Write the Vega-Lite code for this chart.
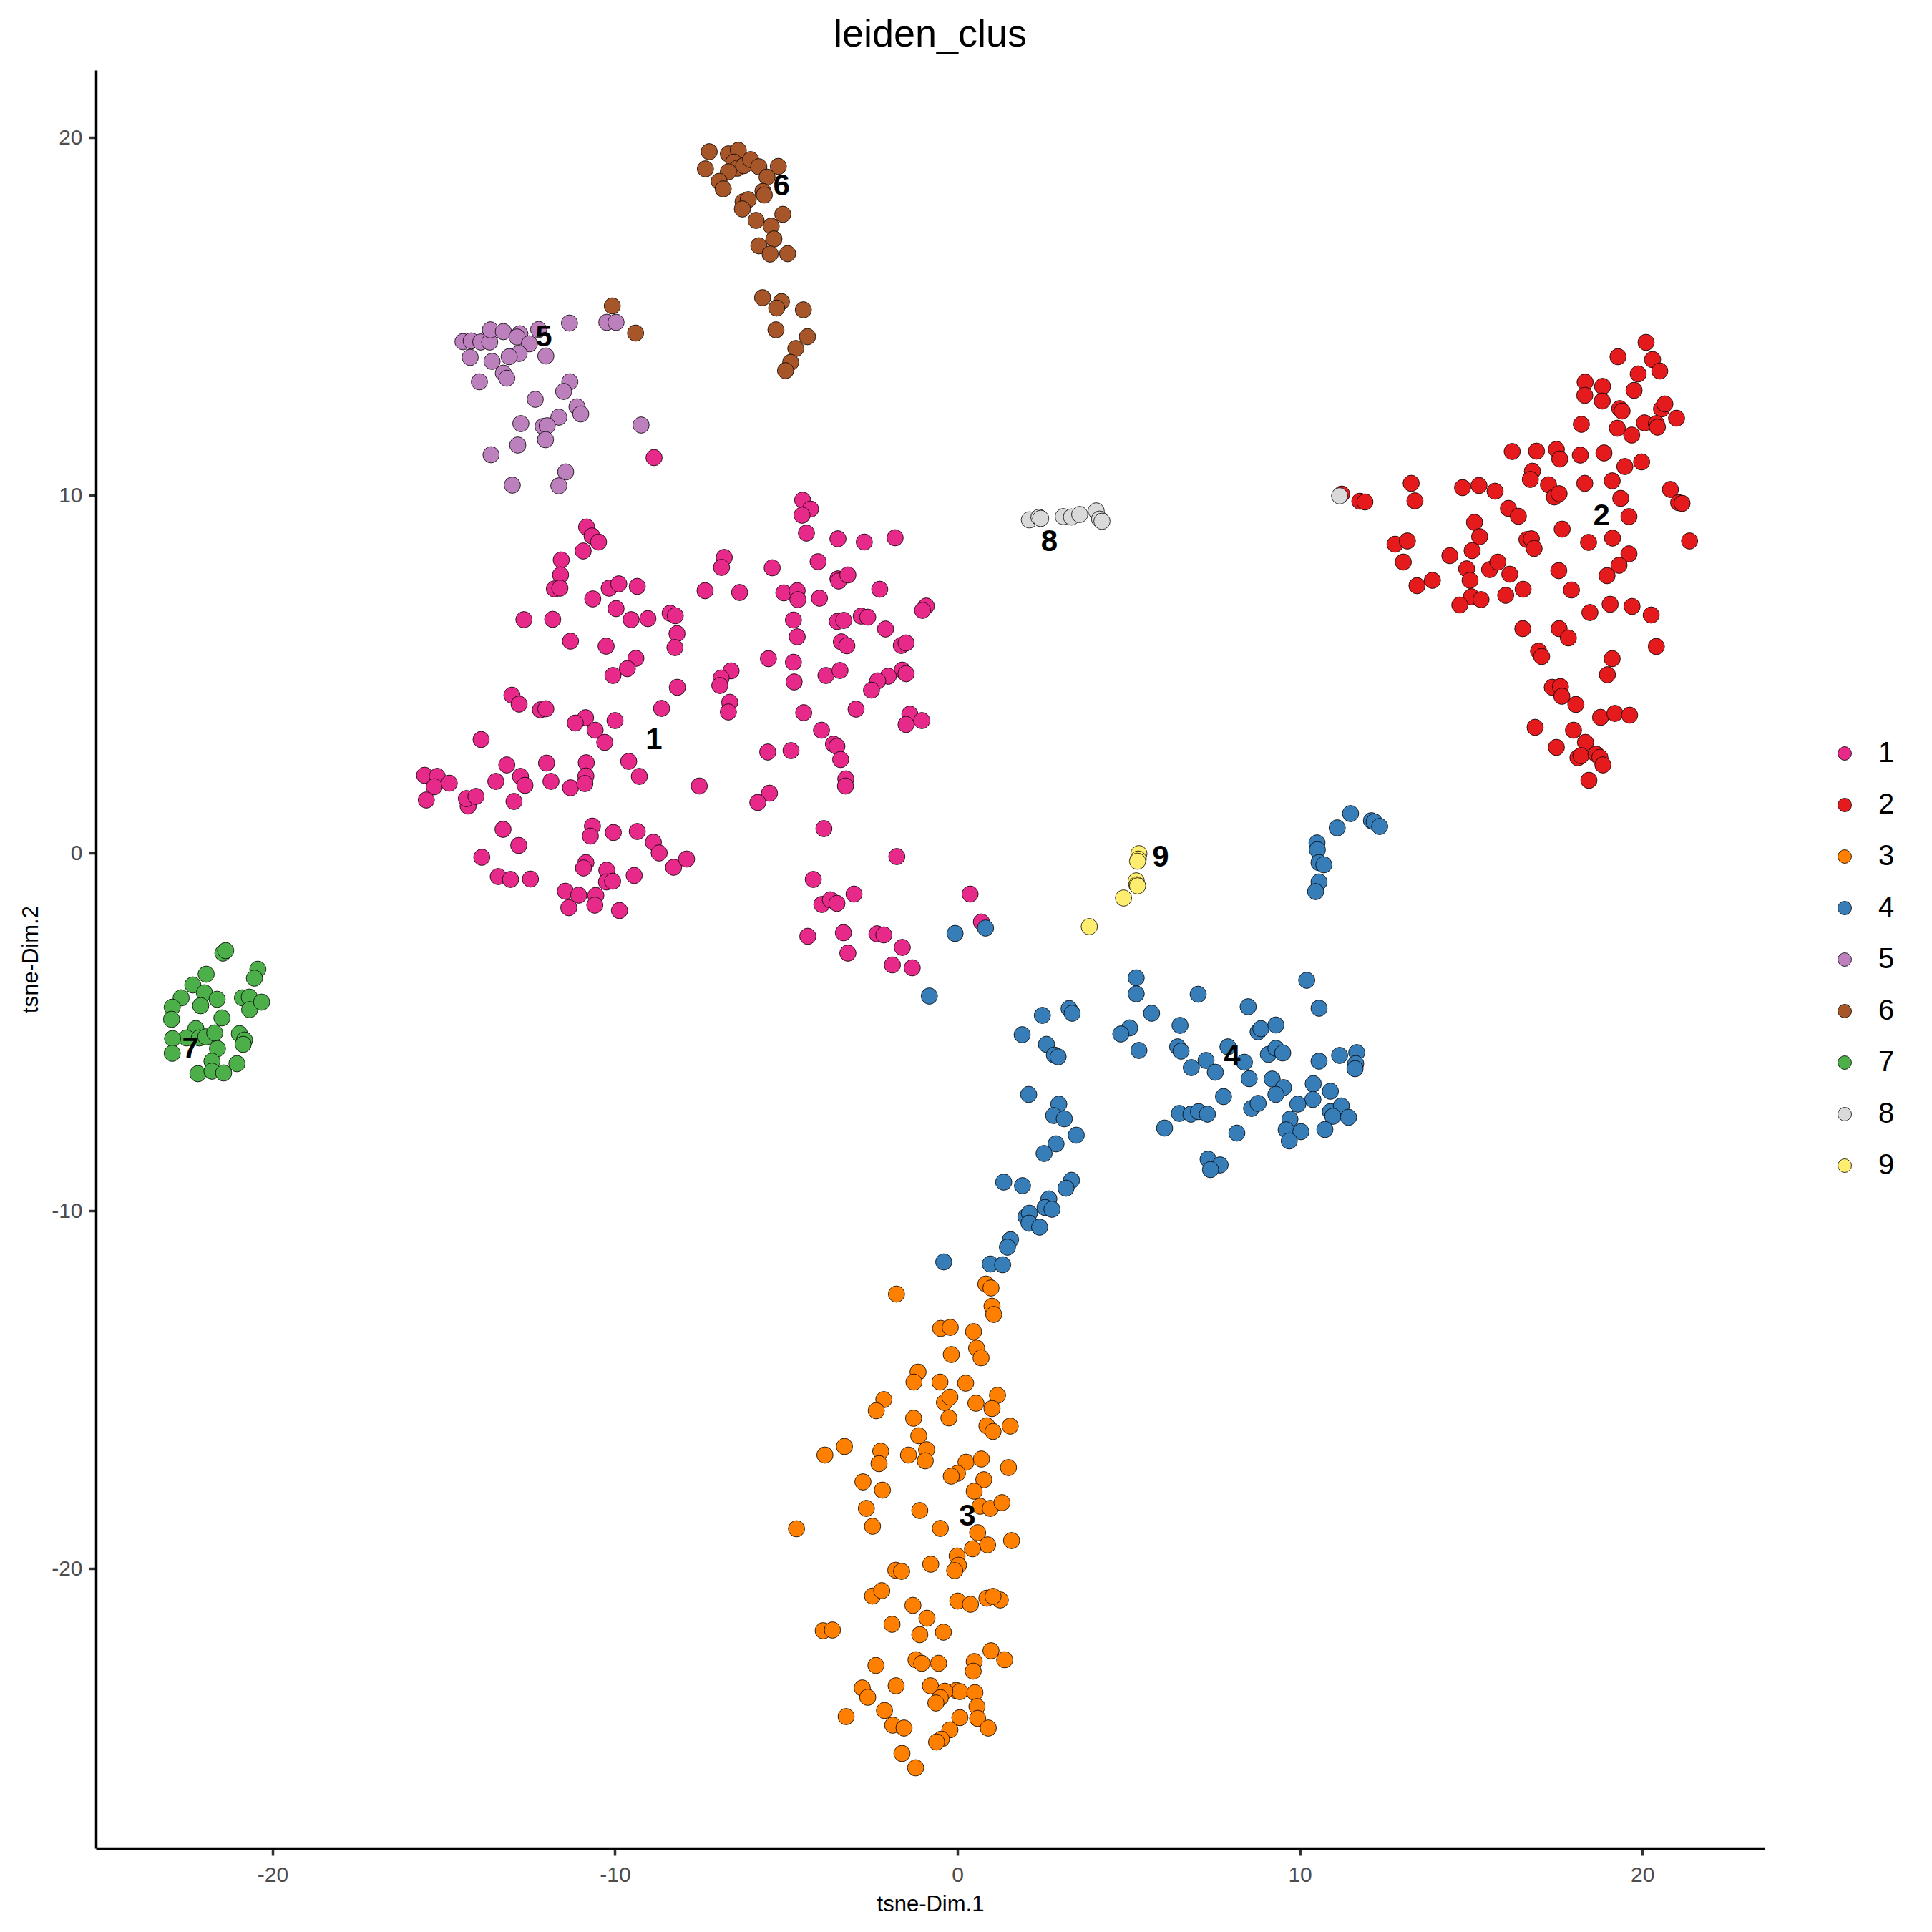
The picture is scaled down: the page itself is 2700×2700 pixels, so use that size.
{
"$schema":"https://vega.github.io/schema/vega-lite/v6.json",
"width":2332,"height":2485,
"autosize":{"type":"none"},
"padding":{"left":134,"top":98,"right":234,"bottom":117},
"background":"white",
"title":{"text":"leiden_clus","fontSize":54,"font":"Liberation Sans","fontWeight":"normal","color":"black","anchor":"middle","baseline":"alphabetic","offset":34,"dy":55,"frame":"group"},
"config":{"view":{"stroke":null},"axis":{"grid":false,"domainColor":"black","domainWidth":3.5,"tickColor":"#333333","tickWidth":3.5,"tickSize":10,"labelFontSize":30,"labelColor":"#4D4D4D","labelFont":"Liberation Sans","titleFontSize":31,"titleFont":"Liberation Sans","titleFontWeight":"normal","titleColor":"black","labelFlush":false,"labelOverlap":false}},
"datasets":{
"pts":[
{"x":-4.52,"y":9.86,"c":"1"},{"x":-4.29,"y":9.61,"c":"1"},{"x":-4.54,"y":9.44,"c":"1"},{"x":-4.41,"y":8.94,"c":"1"},{"x":-3.49,"y":8.78,"c":"1"},{"x":-2.72,"y":8.69,"c":"1"},{"x":-1.82,"y":8.81,"c":"1"},
{"x":-10.83,"y":9.11,"c":"1"},{"x":-10.67,"y":8.86,"c":"1"},{"x":-10.48,"y":8.69,"c":"1"},{"x":-10.93,"y":8.44,"c":"1"},
{"x":-11.57,"y":8.19,"c":"1"},{"x":-11.59,"y":7.77,"c":"1"},{"x":-11.77,"y":7.38,"c":"1"},{"x":-11.61,"y":7.40,"c":"1"},
{"x":-6.81,"y":8.26,"c":"1"},{"x":-6.89,"y":7.98,"c":"1"},
{"x":-5.41,"y":7.97,"c":"1"},{"x":-4.07,"y":8.14,"c":"1"},{"x":-3.49,"y":7.66,"c":"1"},{"x":-3.47,"y":7.60,"c":"1"},{"x":-3.20,"y":7.77,"c":"1"},
{"x":-10.17,"y":7.40,"c":"1"},{"x":-9.89,"y":7.52,"c":"1"},{"x":-9.35,"y":7.45,"c":"1"},
{"x":-7.37,"y":7.33,"c":"1"},{"x":-6.36,"y":7.28,"c":"1"},
{"x":-5.07,"y":7.27,"c":"1"},{"x":-4.68,"y":7.33,"c":"1"},{"x":-4.66,"y":7.08,"c":"1"},{"x":-4.03,"y":7.12,"c":"1"},{"x":-2.27,"y":7.37,"c":"1"},
{"x":-0.91,"y":6.90,"c":"1"},{"x":-1.02,"y":6.78,"c":"1"},
{"x":-10.65,"y":7.10,"c":"1"},{"x":-9.97,"y":6.83,"c":"1"},{"x":-9.53,"y":6.52,"c":"1"},{"x":-9.04,"y":6.55,"c":"1"},{"x":-8.39,"y":6.70,"c":"1"},{"x":-8.24,"y":6.63,"c":"1"},
{"x":-12.66,"y":6.52,"c":"1"},{"x":-11.82,"y":6.53,"c":"1"},
{"x":-4.79,"y":6.51,"c":"1"},{"x":-3.51,"y":6.47,"c":"1"},{"x":-3.32,"y":6.50,"c":"1"},{"x":-2.81,"y":6.62,"c":"1"},{"x":-2.62,"y":6.59,"c":"1"},{"x":-2.10,"y":6.26,"c":"1"},
{"x":-8.19,"y":6.13,"c":"1"},{"x":-8.25,"y":5.74,"c":"1"},
{"x":-11.30,"y":5.92,"c":"1"},{"x":-10.26,"y":5.78,"c":"1"},
{"x":-4.68,"y":6.04,"c":"1"},{"x":-3.39,"y":5.90,"c":"1"},{"x":-3.23,"y":5.79,"c":"1"},{"x":-1.64,"y":5.80,"c":"1"},{"x":-1.50,"y":5.87,"c":"1"},
{"x":-9.39,"y":5.44,"c":"1"},{"x":-9.64,"y":5.15,"c":"1"},{"x":-10.06,"y":4.96,"c":"1"},
{"x":-5.52,"y":5.43,"c":"1"},{"x":-4.79,"y":5.33,"c":"1"},{"x":-4.77,"y":4.78,"c":"1"},{"x":-3.84,"y":4.96,"c":"1"},{"x":-3.43,"y":5.10,"c":"1"},
{"x":-6.61,"y":5.09,"c":"1"},{"x":-6.90,"y":4.89,"c":"1"},{"x":-6.94,"y":4.68,"c":"1"},
{"x":-1.61,"y":5.11,"c":"1"},{"x":-1.50,"y":5.01,"c":"1"},{"x":-2.02,"y":4.94,"c":"1"},{"x":-2.33,"y":4.81,"c":"1"},{"x":-2.51,"y":4.55,"c":"1"},
{"x":-8.18,"y":4.63,"c":"1"},
{"x":-13.01,"y":4.41,"c":"1"},{"x":-12.80,"y":4.16,"c":"1"},{"x":-12.18,"y":4.00,"c":"1"},{"x":-12.02,"y":4.03,"c":"1"},
{"x":-6.65,"y":4.21,"c":"1"},{"x":-6.69,"y":3.94,"c":"1"},
{"x":-8.64,"y":4.04,"c":"1"},
{"x":-4.49,"y":3.92,"c":"1"},{"x":-2.96,"y":4.02,"c":"1"},
{"x":-1.39,"y":3.88,"c":"1"},{"x":-1.04,"y":3.70,"c":"1"},{"x":-1.50,"y":3.59,"c":"1"},
{"x":-10.86,"y":3.78,"c":"1"},{"x":-11.16,"y":3.63,"c":"1"},{"x":-10.58,"y":3.43,"c":"1"},{"x":-10.30,"y":3.09,"c":"1"},{"x":-10.00,"y":3.70,"c":"1"},
{"x":-13.91,"y":3.17,"c":"1"},
{"x":-3.97,"y":3.43,"c":"1"},{"x":-3.62,"y":3.04,"c":"1"},{"x":-3.52,"y":2.98,"c":"1"},{"x":-3.41,"y":2.61,"c":"1"},
{"x":-5.54,"y":2.82,"c":"1"},{"x":-4.86,"y":2.86,"c":"1"},
{"x":-15.56,"y":2.17,"c":"1"},{"x":-15.19,"y":2.14,"c":"1"},{"x":-15.28,"y":1.85,"c":"1"},{"x":-14.84,"y":1.95,"c":"1"},{"x":-15.51,"y":1.48,"c":"1"},
{"x":-13.16,"y":2.46,"c":"1"},{"x":-13.48,"y":2.00,"c":"1"},{"x":-12.76,"y":2.14,"c":"1"},{"x":-12.63,"y":1.89,"c":"1"},{"x":-12.95,"y":1.44,"c":"1"},
{"x":-12.00,"y":2.51,"c":"1"},{"x":-11.87,"y":2.00,"c":"1"},{"x":-11.30,"y":1.82,"c":"1"},{"x":-10.84,"y":2.52,"c":"1"},{"x":-10.85,"y":2.15,"c":"1"},{"x":-10.88,"y":1.94,"c":"1"},
{"x":-9.60,"y":2.56,"c":"1"},{"x":-9.29,"y":2.14,"c":"1"},
{"x":-7.54,"y":1.87,"c":"1"},
{"x":-3.26,"y":2.07,"c":"1"},{"x":-3.27,"y":1.87,"c":"1"},
{"x":-5.49,"y":1.67,"c":"1"},{"x":-5.83,"y":1.41,"c":"1"},
{"x":-14.29,"y":1.31,"c":"1"},{"x":-14.34,"y":1.52,"c":"1"},{"x":-14.06,"y":1.58,"c":"1"},
{"x":-13.27,"y":0.66,"c":"1"},{"x":-12.81,"y":0.21,"c":"1"},{"x":-13.89,"y":-0.12,"c":"1"},
{"x":-10.66,"y":0.75,"c":"1"},{"x":-10.72,"y":0.47,"c":"1"},{"x":-10.05,"y":0.57,"c":"1"},{"x":-9.35,"y":0.60,"c":"1"},{"x":-8.88,"y":0.30,"c":"1"},{"x":-8.71,"y":0.00,"c":"1"},{"x":-8.29,"y":-0.40,"c":"1"},{"x":-7.91,"y":-0.17,"c":"1"},
{"x":-3.90,"y":0.68,"c":"1"},
{"x":-1.77,"y":-0.10,"c":"1"},
{"x":-13.41,"y":-0.66,"c":"1"},{"x":-13.05,"y":-0.74,"c":"1"},{"x":-12.47,"y":-0.73,"c":"1"},
{"x":-10.85,"y":-0.27,"c":"1"},{"x":-10.92,"y":-0.42,"c":"1"},{"x":-10.24,"y":-0.48,"c":"1"},{"x":-10.25,"y":-0.81,"c":"1"},{"x":-10.07,"y":-0.79,"c":"1"},{"x":-9.44,"y":-0.63,"c":"1"},
{"x":-4.21,"y":-0.74,"c":"1"},
{"x":-11.45,"y":-1.07,"c":"1"},{"x":-11.06,"y":-1.18,"c":"1"},{"x":-10.56,"y":-1.19,"c":"1"},{"x":-11.35,"y":-1.53,"c":"1"},{"x":-10.59,"y":-1.46,"c":"1"},{"x":-9.87,"y":-1.61,"c":"1"},
{"x":-3.02,"y":-1.15,"c":"1"},{"x":-3.96,"y":-1.44,"c":"1"},{"x":-3.71,"y":-1.31,"c":"1"},{"x":-3.52,"y":-1.41,"c":"1"},
{"x":-4.37,"y":-2.33,"c":"1"},{"x":-3.33,"y":-2.23,"c":"1"},{"x":-2.35,"y":-2.26,"c":"1"},{"x":-2.15,"y":-2.29,"c":"1"},{"x":-1.61,"y":-2.64,"c":"1"},{"x":-3.20,"y":-2.80,"c":"1"},{"x":-1.90,"y":-3.13,"c":"1"},{"x":-1.32,"y":-3.21,"c":"1"},
{"x":-8.86,"y":11.05,"c":"1"},{"x":0.37,"y":-1.15,"c":"1"},{"x":0.70,"y":-1.93,"c":"1"},
{"x":20.11,"y":14.27,"c":"2"},{"x":19.29,"y":13.87,"c":"2"},{"x":20.30,"y":13.79,"c":"2"},{"x":20.51,"y":13.47,"c":"2"},{"x":19.88,"y":13.39,"c":"2"},{"x":18.33,"y":13.16,"c":"2"},{"x":18.84,"y":13.04,"c":"2"},{"x":19.76,"y":12.93,"c":"2"},{"x":18.32,"y":12.79,"c":"2"},{"x":18.83,"y":12.63,"c":"2"},{"x":19.34,"y":12.42,"c":"2"},{"x":19.41,"y":12.35,"c":"2"},{"x":20.56,"y":12.41,"c":"2"},{"x":20.66,"y":12.55,"c":"2"},{"x":21.00,"y":12.15,"c":"2"},{"x":18.22,"y":11.98,"c":"2"},{"x":19.27,"y":11.87,"c":"2"},{"x":19.69,"y":11.68,"c":"2"},{"x":20.06,"y":12.02,"c":"2"},{"x":20.41,"y":12.00,"c":"2"},{"x":20.44,"y":11.90,"c":"2"},
{"x":16.20,"y":11.22,"c":"2"},{"x":16.91,"y":11.23,"c":"2"},{"x":17.49,"y":11.28,"c":"2"},{"x":17.59,"y":11.01,"c":"2"},{"x":18.19,"y":11.12,"c":"2"},{"x":18.88,"y":11.18,"c":"2"},{"x":19.49,"y":10.80,"c":"2"},{"x":19.98,"y":10.93,"c":"2"},{"x":16.79,"y":10.67,"c":"2"},{"x":16.73,"y":10.44,"c":"2"},{"x":17.26,"y":10.29,"c":"2"},{"x":17.43,"y":9.95,"c":"2"},{"x":17.57,"y":10.04,"c":"2"},{"x":18.32,"y":10.33,"c":"2"},{"x":19.12,"y":10.40,"c":"2"},{"x":19.37,"y":9.91,"c":"2"},{"x":20.82,"y":10.16,"c":"2"},{"x":21.06,"y":9.79,"c":"2"},{"x":21.16,"y":9.77,"c":"2"},{"x":19.61,"y":9.40,"c":"2"},
{"x":13.25,"y":10.33,"c":"2"},{"x":13.36,"y":9.84,"c":"2"},{"x":11.75,"y":9.83,"c":"2"},{"x":11.90,"y":9.81,"c":"2"},{"x":14.75,"y":10.21,"c":"2"},{"x":15.23,"y":10.27,"c":"2"},{"x":15.70,"y":10.11,"c":"2"},{"x":16.09,"y":9.63,"c":"2"},{"x":16.38,"y":9.41,"c":"2"},{"x":15.10,"y":9.24,"c":"2"},{"x":15.25,"y":8.84,"c":"2"},{"x":17.66,"y":9.05,"c":"2"},{"x":16.63,"y":8.76,"c":"2"},{"x":16.76,"y":8.78,"c":"2"},{"x":16.84,"y":8.51,"c":"2"},{"x":18.43,"y":8.68,"c":"2"},{"x":19.13,"y":8.80,"c":"2"},{"x":21.38,"y":8.72,"c":"2"},
{"x":12.78,"y":8.63,"c":"2"},{"x":13.14,"y":8.72,"c":"2"},{"x":13.02,"y":8.13,"c":"2"},{"x":14.38,"y":8.31,"c":"2"},{"x":15.03,"y":8.45,"c":"2"},{"x":14.87,"y":7.94,"c":"2"},{"x":14.97,"y":7.62,"c":"2"},{"x":15.54,"y":7.92,"c":"2"},{"x":15.78,"y":8.13,"c":"2"},{"x":16.13,"y":7.79,"c":"2"},{"x":19.61,"y":8.36,"c":"2"},{"x":19.32,"y":8.04,"c":"2"},{"x":18.97,"y":7.75,"c":"2"},{"x":17.56,"y":7.89,"c":"2"},{"x":13.42,"y":7.47,"c":"2"},{"x":13.87,"y":7.62,"c":"2"},{"x":15.01,"y":7.16,"c":"2"},{"x":15.29,"y":7.08,"c":"2"},{"x":14.67,"y":6.93,"c":"2"},{"x":16.01,"y":7.20,"c":"2"},{"x":16.52,"y":7.37,"c":"2"},{"x":17.93,"y":7.35,"c":"2"},
{"x":18.47,"y":6.72,"c":"2"},{"x":19.06,"y":6.95,"c":"2"},{"x":19.70,"y":6.89,"c":"2"},{"x":20.26,"y":6.65,"c":"2"},{"x":16.51,"y":6.27,"c":"2"},{"x":17.57,"y":6.27,"c":"2"},{"x":17.84,"y":6.01,"c":"2"},{"x":16.97,"y":5.64,"c":"2"},{"x":17.06,"y":5.49,"c":"2"},{"x":20.41,"y":5.77,"c":"2"},{"x":19.12,"y":5.43,"c":"2"},{"x":18.98,"y":4.98,"c":"2"},{"x":17.37,"y":4.63,"c":"2"},{"x":17.61,"y":4.65,"c":"2"},{"x":17.65,"y":4.38,"c":"2"},{"x":18.06,"y":4.15,"c":"2"},{"x":18.78,"y":3.79,"c":"2"},{"x":19.20,"y":3.90,"c":"2"},{"x":19.63,"y":3.85,"c":"2"},{"x":16.87,"y":3.51,"c":"2"},{"x":17.99,"y":3.43,"c":"2"},{"x":18.34,"y":3.09,"c":"2"},{"x":17.49,"y":2.95,"c":"2"},{"x":18.12,"y":2.66,"c":"2"},{"x":18.21,"y":2.72,"c":"2"},{"x":18.65,"y":2.76,"c":"2"},{"x":18.76,"y":2.67,"c":"2"},{"x":18.85,"y":2.46,"c":"2"},{"x":18.44,"y":2.03,"c":"2"},{"x":11.22,"y":10.03,"c":"2"},
{"x":-1.78,"y":-12.33,"c":"3"},{"x":0.83,"y":-12.05,"c":"3"},{"x":0.98,"y":-12.16,"c":"3"},{"x":1.01,"y":-12.67,"c":"3"},{"x":1.06,"y":-12.90,"c":"3"},{"x":-0.49,"y":-13.29,"c":"3"},{"x":-0.21,"y":-13.26,"c":"3"},{"x":0.47,"y":-13.38,"c":"3"},{"x":0.56,"y":-13.84,"c":"3"},{"x":0.69,"y":-14.11,"c":"3"},{"x":-0.18,"y":-14.02,"c":"3"},{"x":-1.15,"y":-14.51,"c":"3"},{"x":-1.27,"y":-14.79,"c":"3"},{"x":-0.51,"y":-14.79,"c":"3"},{"x":0.24,"y":-14.82,"c":"3"},{"x":-2.15,"y":-15.28,"c":"3"},{"x":-2.37,"y":-15.59,"c":"3"},{"x":-0.38,"y":-15.36,"c":"3"},{"x":-0.22,"y":-15.21,"c":"3"},{"x":0.54,"y":-15.38,"c":"3"},{"x":1.17,"y":-15.16,"c":"3"},{"x":1.01,"y":-15.53,"c":"3"},{"x":-1.28,"y":-15.80,"c":"3"},{"x":-0.25,"y":-15.79,"c":"3"},{"x":0.86,"y":-16.01,"c":"3"},{"x":1.04,"y":-16.17,"c":"3"},{"x":1.54,"y":-16.02,"c":"3"},{"x":-1.13,"y":-16.29,"c":"3"},
{"x":-3.30,"y":-16.59,"c":"3"},{"x":-3.87,"y":-16.83,"c":"3"},{"x":-2.24,"y":-16.72,"c":"3"},{"x":-2.29,"y":-17.07,"c":"3"},{"x":-1.43,"y":-16.83,"c":"3"},{"x":-0.90,"y":-16.68,"c":"3"},{"x":-0.94,"y":-16.99,"c":"3"},{"x":0.25,"y":-17.03,"c":"3"},{"x":0.70,"y":-16.94,"c":"3"},{"x":0.00,"y":-17.34,"c":"3"},{"x":-0.18,"y":-17.42,"c":"3"},{"x":1.49,"y":-17.18,"c":"3"},{"x":0.77,"y":-17.52,"c":"3"},{"x":0.49,"y":-17.84,"c":"3"},{"x":-2.76,"y":-17.58,"c":"3"},{"x":-2.19,"y":-17.81,"c":"3"},{"x":-2.66,"y":-18.32,"c":"3"},{"x":-1.10,"y":-18.38,"c":"3"},{"x":0.66,"y":-18.26,"c":"3"},{"x":0.96,"y":-18.32,"c":"3"},{"x":1.30,"y":-18.16,"c":"3"},
{"x":-4.70,"y":-18.89,"c":"3"},{"x":-2.48,"y":-18.82,"c":"3"},{"x":-0.50,"y":-18.88,"c":"3"},{"x":0.59,"y":-19.00,"c":"3"},{"x":1.58,"y":-19.22,"c":"3"},{"x":0.88,"y":-19.34,"c":"3"},{"x":0.44,"y":-19.45,"c":"3"},{"x":-0.01,"y":-19.65,"c":"3"},{"x":0.03,"y":-19.91,"c":"3"},{"x":-0.08,"y":-20.06,"c":"3"},{"x":-0.78,"y":-19.88,"c":"3"},{"x":-1.80,"y":-20.05,"c":"3"},{"x":-1.63,"y":-20.08,"c":"3"},{"x":-2.48,"y":-20.77,"c":"3"},{"x":-2.21,"y":-20.62,"c":"3"},{"x":-1.30,"y":-21.03,"c":"3"},{"x":0.01,"y":-20.91,"c":"3"},{"x":0.38,"y":-21.00,"c":"3"},{"x":0.86,"y":-20.83,"c":"3"},{"x":1.25,"y":-20.88,"c":"3"},{"x":1.04,"y":-20.78,"c":"3"},
{"x":-0.89,"y":-21.39,"c":"3"},{"x":-1.91,"y":-21.56,"c":"3"},{"x":-3.92,"y":-21.74,"c":"3"},{"x":-3.65,"y":-21.72,"c":"3"},{"x":-1.10,"y":-21.85,"c":"3"},{"x":-0.41,"y":-21.78,"c":"3"},{"x":0.98,"y":-22.30,"c":"3"},{"x":1.38,"y":-22.55,"c":"3"},{"x":0.49,"y":-22.60,"c":"3"},{"x":0.46,"y":-22.87,"c":"3"},{"x":-2.38,"y":-22.71,"c":"3"},{"x":-1.21,"y":-22.55,"c":"3"},{"x":-1.04,"y":-22.65,"c":"3"},{"x":-0.55,"y":-22.65,"c":"3"},
{"x":-1.79,"y":-23.28,"c":"3"},{"x":-2.78,"y":-23.34,"c":"3"},{"x":-2.62,"y":-23.60,"c":"3"},{"x":-0.79,"y":-23.28,"c":"3"},{"x":-0.04,"y":-23.41,"c":"3"},{"x":0.07,"y":-23.44,"c":"3"},{"x":0.51,"y":-23.47,"c":"3"},{"x":-0.37,"y":-23.43,"c":"3"},{"x":-0.50,"y":-23.61,"c":"3"},{"x":-0.63,"y":-23.76,"c":"3"},{"x":0.57,"y":-23.86,"c":"3"},{"x":-3.25,"y":-24.14,"c":"3"},{"x":-2.13,"y":-23.97,"c":"3"},{"x":-1.89,"y":-24.38,"c":"3"},{"x":-1.56,"y":-24.46,"c":"3"},{"x":0.07,"y":-24.17,"c":"3"},{"x":0.59,"y":-24.19,"c":"3"},{"x":0.90,"y":-24.46,"c":"3"},{"x":-0.22,"y":-24.51,"c":"3"},{"x":-0.47,"y":-24.77,"c":"3"},{"x":-0.61,"y":-24.85,"c":"3"},{"x":-1.62,"y":-25.17,"c":"3"},{"x":-1.22,"y":-25.57,"c":"3"},
{"x":11.48,"y":1.10,"c":"4"},{"x":11.09,"y":0.70,"c":"4"},{"x":12.09,"y":0.90,"c":"4"},{"x":12.17,"y":0.87,"c":"4"},{"x":12.33,"y":0.74,"c":"4"},{"x":10.50,"y":0.28,"c":"4"},{"x":10.51,"y":0.09,"c":"4"},{"x":10.56,"y":-0.27,"c":"4"},{"x":10.70,"y":-0.33,"c":"4"},{"x":10.56,"y":-0.81,"c":"4"},{"x":10.46,"y":-1.08,"c":"4"},
{"x":-0.07,"y":-2.25,"c":"4"},{"x":0.82,"y":-2.10,"c":"4"},{"x":-0.82,"y":-4.00,"c":"4"},
{"x":5.22,"y":-3.49,"c":"4"},{"x":5.22,"y":-3.94,"c":"4"},{"x":5.67,"y":-4.48,"c":"4"},{"x":7.03,"y":-3.95,"c":"4"},{"x":10.20,"y":-3.56,"c":"4"},{"x":8.49,"y":-4.30,"c":"4"},{"x":10.56,"y":-4.34,"c":"4"},
{"x":2.48,"y":-4.54,"c":"4"},{"x":3.26,"y":-4.35,"c":"4"},{"x":3.35,"y":-4.48,"c":"4"},{"x":1.89,"y":-5.08,"c":"4"},{"x":2.60,"y":-5.35,"c":"4"},{"x":2.83,"y":-5.65,"c":"4"},{"x":2.94,"y":-5.70,"c":"4"},
{"x":5.03,"y":-4.89,"c":"4"},{"x":4.77,"y":-5.06,"c":"4"},{"x":5.30,"y":-5.52,"c":"4"},{"x":6.50,"y":-4.82,"c":"4"},{"x":6.43,"y":-5.42,"c":"4"},{"x":6.53,"y":-5.54,"c":"4"},
{"x":8.78,"y":-5.00,"c":"4"},{"x":8.86,"y":-4.91,"c":"4"},{"x":9.30,"y":-4.81,"c":"4"},{"x":7.90,"y":-5.42,"c":"4"},{"x":8.38,"y":-5.85,"c":"4"},{"x":7.26,"y":-5.80,"c":"4"},{"x":6.83,"y":-6.00,"c":"4"},{"x":7.53,"y":-6.13,"c":"4"},{"x":8.52,"y":-6.31,"c":"4"},
{"x":9.08,"y":-5.63,"c":"4"},{"x":9.30,"y":-5.46,"c":"4"},{"x":9.50,"y":-5.59,"c":"4"},{"x":9.19,"y":-6.32,"c":"4"},{"x":9.52,"y":-6.56,"c":"4"},{"x":9.30,"y":-6.75,"c":"4"},{"x":10.56,"y":-5.82,"c":"4"},{"x":11.16,"y":-5.66,"c":"4"},{"x":11.66,"y":-5.58,"c":"4"},{"x":11.63,"y":-5.89,"c":"4"},{"x":11.61,"y":-6.03,"c":"4"},
{"x":7.77,"y":-6.81,"c":"4"},{"x":8.59,"y":-7.14,"c":"4"},{"x":8.78,"y":-7.00,"c":"4"},{"x":10.39,"y":-6.45,"c":"4"},{"x":10.89,"y":-6.66,"c":"4"},{"x":10.38,"y":-6.89,"c":"4"},{"x":9.94,"y":-7.02,"c":"4"},{"x":10.89,"y":-7.23,"c":"4"},{"x":11.21,"y":-7.07,"c":"4"},{"x":10.96,"y":-7.36,"c":"4"},{"x":11.42,"y":-7.39,"c":"4"},
{"x":9.71,"y":-7.44,"c":"4"},{"x":9.60,"y":-7.74,"c":"4"},{"x":10.03,"y":-7.79,"c":"4"},{"x":9.69,"y":-8.05,"c":"4"},{"x":10.73,"y":-7.73,"c":"4"},
{"x":6.48,"y":-7.28,"c":"4"},{"x":6.82,"y":-7.30,"c":"4"},{"x":7.04,"y":-7.23,"c":"4"},{"x":7.30,"y":-7.30,"c":"4"},{"x":6.05,"y":-7.69,"c":"4"},{"x":8.16,"y":-7.83,"c":"4"},
{"x":7.32,"y":-8.56,"c":"4"},{"x":7.67,"y":-8.72,"c":"4"},{"x":7.39,"y":-8.85,"c":"4"},
{"x":2.08,"y":-6.75,"c":"4"},{"x":2.96,"y":-7.02,"c":"4"},{"x":2.81,"y":-7.34,"c":"4"},{"x":3.12,"y":-7.43,"c":"4"},{"x":3.47,"y":-7.89,"c":"4"},{"x":2.88,"y":-8.13,"c":"4"},{"x":2.53,"y":-8.40,"c":"4"},
{"x":1.35,"y":-9.20,"c":"4"},{"x":1.90,"y":-9.30,"c":"4"},{"x":3.33,"y":-9.15,"c":"4"},{"x":3.17,"y":-9.37,"c":"4"},{"x":2.67,"y":-9.67,"c":"4"},{"x":2.56,"y":-9.91,"c":"4"},{"x":2.76,"y":-9.96,"c":"4"},{"x":2.00,"y":-10.17,"c":"4"},{"x":2.10,"y":-10.07,"c":"4"},{"x":2.09,"y":-10.35,"c":"4"},{"x":2.40,"y":-10.46,"c":"4"},
{"x":1.55,"y":-10.81,"c":"4"},{"x":1.46,"y":-11.02,"c":"4"},{"x":-0.40,"y":-11.43,"c":"4"},{"x":0.96,"y":-11.49,"c":"4"},{"x":1.32,"y":-11.51,"c":"4"},
{"x":-14.44,"y":14.29,"c":"5"},{"x":-14.20,"y":14.31,"c":"5"},{"x":-13.92,"y":14.28,"c":"5"},{"x":-13.66,"y":14.28,"c":"5"},{"x":-13.64,"y":14.62,"c":"5"},{"x":-13.26,"y":14.57,"c":"5"},{"x":-12.78,"y":14.51,"c":"5"},{"x":-12.86,"y":14.42,"c":"5"},{"x":-12.50,"y":14.23,"c":"5"},{"x":-12.23,"y":14.63,"c":"5"},{"x":-12.80,"y":13.96,"c":"5"},{"x":-13.09,"y":13.87,"c":"5"},{"x":-14.23,"y":13.85,"c":"5"},{"x":-13.59,"y":13.74,"c":"5"},{"x":-13.26,"y":13.41,"c":"5"},{"x":-13.16,"y":13.27,"c":"5"},{"x":-13.96,"y":13.17,"c":"5"},{"x":-12.02,"y":13.89,"c":"5"},{"x":-11.33,"y":14.81,"c":"5"},{"x":-10.24,"y":14.83,"c":"5"},{"x":-9.97,"y":14.83,"c":"5"},
{"x":-11.32,"y":13.17,"c":"5"},{"x":-11.50,"y":12.90,"c":"5"},{"x":-12.33,"y":12.68,"c":"5"},{"x":-11.11,"y":12.47,"c":"5"},{"x":-11.00,"y":12.27,"c":"5"},{"x":-11.64,"y":12.18,"c":"5"},{"x":-12.75,"y":12.00,"c":"5"},{"x":-12.10,"y":11.92,"c":"5"},{"x":-11.98,"y":11.94,"c":"5"},{"x":-12.03,"y":11.55,"c":"5"},{"x":-12.84,"y":11.40,"c":"5"},{"x":-13.62,"y":11.13,"c":"5"},{"x":-9.24,"y":11.96,"c":"5"},{"x":-11.44,"y":10.65,"c":"5"},{"x":-13.00,"y":10.28,"c":"5"},{"x":-11.64,"y":10.26,"c":"5"},
{"x":-7.25,"y":19.60,"c":"6"},{"x":-6.69,"y":19.54,"c":"6"},{"x":-6.40,"y":19.64,"c":"6"},{"x":-6.53,"y":19.31,"c":"6"},{"x":-6.42,"y":19.14,"c":"6"},{"x":-6.24,"y":19.21,"c":"6"},{"x":-6.04,"y":19.38,"c":"6"},{"x":-5.80,"y":19.18,"c":"6"},{"x":-5.23,"y":19.19,"c":"6"},{"x":-6.69,"y":19.04,"c":"6"},{"x":-7.36,"y":19.12,"c":"6"},{"x":-6.96,"y":18.77,"c":"6"},{"x":-6.84,"y":18.56,"c":"6"},{"x":-5.56,"y":18.89,"c":"6"},{"x":-5.68,"y":18.49,"c":"6"},{"x":-5.64,"y":18.39,"c":"6"},{"x":-6.26,"y":18.20,"c":"6"},{"x":-6.11,"y":18.26,"c":"6"},{"x":-6.28,"y":18.00,"c":"6"},{"x":-5.88,"y":17.68,"c":"6"},{"x":-5.10,"y":17.85,"c":"6"},{"x":-5.44,"y":17.52,"c":"6"},{"x":-5.36,"y":17.16,"c":"6"},{"x":-5.80,"y":16.97,"c":"6"},{"x":-5.47,"y":16.74,"c":"6"},{"x":-4.96,"y":16.75,"c":"6"},
{"x":-5.69,"y":15.52,"c":"6"},{"x":-5.14,"y":15.41,"c":"6"},{"x":-5.28,"y":15.23,"c":"6"},{"x":-4.50,"y":15.18,"c":"6"},{"x":-5.30,"y":14.62,"c":"6"},{"x":-4.38,"y":14.43,"c":"6"},{"x":-4.72,"y":14.10,"c":"6"},{"x":-4.87,"y":13.71,"c":"6"},{"x":-5.02,"y":13.48,"c":"6"},{"x":-10.08,"y":15.29,"c":"6"},{"x":-9.40,"y":14.53,"c":"6"},
{"x":-21.45,"y":-2.80,"c":"7"},{"x":-21.37,"y":-2.73,"c":"7"},{"x":-20.43,"y":-3.25,"c":"7"},{"x":-20.53,"y":-3.50,"c":"7"},{"x":-21.94,"y":-3.39,"c":"7"},{"x":-22.33,"y":-3.69,"c":"7"},{"x":-22.67,"y":-4.05,"c":"7"},{"x":-22.93,"y":-4.31,"c":"7"},{"x":-22.95,"y":-4.65,"c":"7"},{"x":-21.99,"y":-3.91,"c":"7"},{"x":-22.10,"y":-4.27,"c":"7"},{"x":-21.62,"y":-4.09,"c":"7"},{"x":-20.88,"y":-4.05,"c":"7"},{"x":-20.68,"y":-4.03,"c":"7"},{"x":-20.67,"y":-4.38,"c":"7"},{"x":-20.32,"y":-4.17,"c":"7"},{"x":-21.48,"y":-4.61,"c":"7"},{"x":-22.24,"y":-4.91,"c":"7"},{"x":-22.51,"y":-5.17,"c":"7"},{"x":-22.92,"y":-5.19,"c":"7"},{"x":-22.93,"y":-5.60,"c":"7"},{"x":-22.14,"y":-5.17,"c":"7"},{"x":-21.95,"y":-5.14,"c":"7"},{"x":-21.69,"y":-5.03,"c":"7"},{"x":-21.61,"y":-5.47,"c":"7"},{"x":-20.97,"y":-5.05,"c":"7"},{"x":-20.82,"y":-5.23,"c":"7"},{"x":-20.86,"y":-5.35,"c":"7"},{"x":-21.77,"y":-5.82,"c":"7"},{"x":-21.04,"y":-5.89,"c":"7"},{"x":-22.18,"y":-6.17,"c":"7"},{"x":-21.77,"y":-6.10,"c":"7"},{"x":-21.43,"y":-6.15,"c":"7"},
{"x":2.10,"y":9.31,"c":"8"},{"x":2.38,"y":9.38,"c":"8"},{"x":2.43,"y":9.35,"c":"8"},{"x":3.09,"y":9.40,"c":"8"},{"x":3.33,"y":9.39,"c":"8"},{"x":3.57,"y":9.46,"c":"8"},{"x":4.05,"y":9.56,"c":"8"},{"x":4.15,"y":9.33,"c":"8"},{"x":4.22,"y":9.27,"c":"8"},{"x":11.16,"y":9.98,"c":"8"},
{"x":5.30,"y":-0.02,"c":"9"},{"x":5.28,"y":-0.17,"c":"9"},{"x":5.26,"y":-0.23,"c":"9"},{"x":5.22,"y":-0.78,"c":"9"},{"x":5.24,"y":-0.89,"c":"9"},{"x":5.26,"y":-0.92,"c":"9"},{"x":4.85,"y":-1.26,"c":"9"},{"x":3.85,"y":-2.06,"c":"9"}
],
"lab":[
{"x":-8.86,"y":3.17,"c":"1"},{"x":18.81,"y":9.43,"c":"2"},{"x":0.29,"y":-18.54,"c":"3"},{"x":8.02,"y":-5.68,"c":"4"},{"x":-12.08,"y":14.42,"c":"5"},{"x":-5.14,"y":18.64,"c":"6"},{"x":-22.40,"y":-5.47,"c":"7"},{"x":2.68,"y":8.70,"c":"8"},{"x":5.93,"y":-0.11,"c":"9"}
]},
"layer":[
{"data":{"name":"pts"},
 "mark":{"type":"circle","size":520,"stroke":"black","strokeWidth":0.8,"opacity":1},
 "encoding":{
  "x":{"field":"x","type":"quantitative","scale":{"domain":[-25.16,23.57],"nice":false,"zero":false},"axis":{"values":[-20,-10,0,10,20],"labelExpr":"''+datum.value","title":"tsne-Dim.1","labelPadding":12,"titlePadding":11}},
  "y":{"field":"y","type":"quantitative","scale":{"domain":[-27.82,21.88],"nice":false,"zero":false},"axis":{"values":[-20,-10,0,10,20],"labelExpr":"''+datum.value","title":"tsne-Dim.2","labelPadding":9,"titlePadding":12}},
  "fill":{"field":"c","type":"nominal","scale":{"domain":["1","2","3","4","5","6","7","8","9"],"range":["#E7298A","#E41A1C","#FF7F00","#377EB8","#BC80BD","#A65628","#4DAF4A","#D9D9D9","#FFED6F"]},
   "legend":{"orient":"none","legendX":2424,"legendY":935,"title":null,"padding":0,"labelFontSize":40,"labelFont":"Liberation Sans","labelColor":"black","labelOffset":27,"rowPadding":32,"symbolType":"circle","symbolSize":361,"symbolStrokeColor":"black","symbolStrokeWidth":0.8,"symbolOpacity":1}}
 }},
{"data":{"name":"lab"},
 "mark":{"type":"text","fontWeight":"bold","fontSize":42,"font":"Liberation Sans","color":"black","align":"center","baseline":"middle"},
 "encoding":{
  "x":{"field":"x","type":"quantitative"},
  "y":{"field":"y","type":"quantitative"},
  "text":{"field":"c","type":"nominal"}
 }}
]
}
